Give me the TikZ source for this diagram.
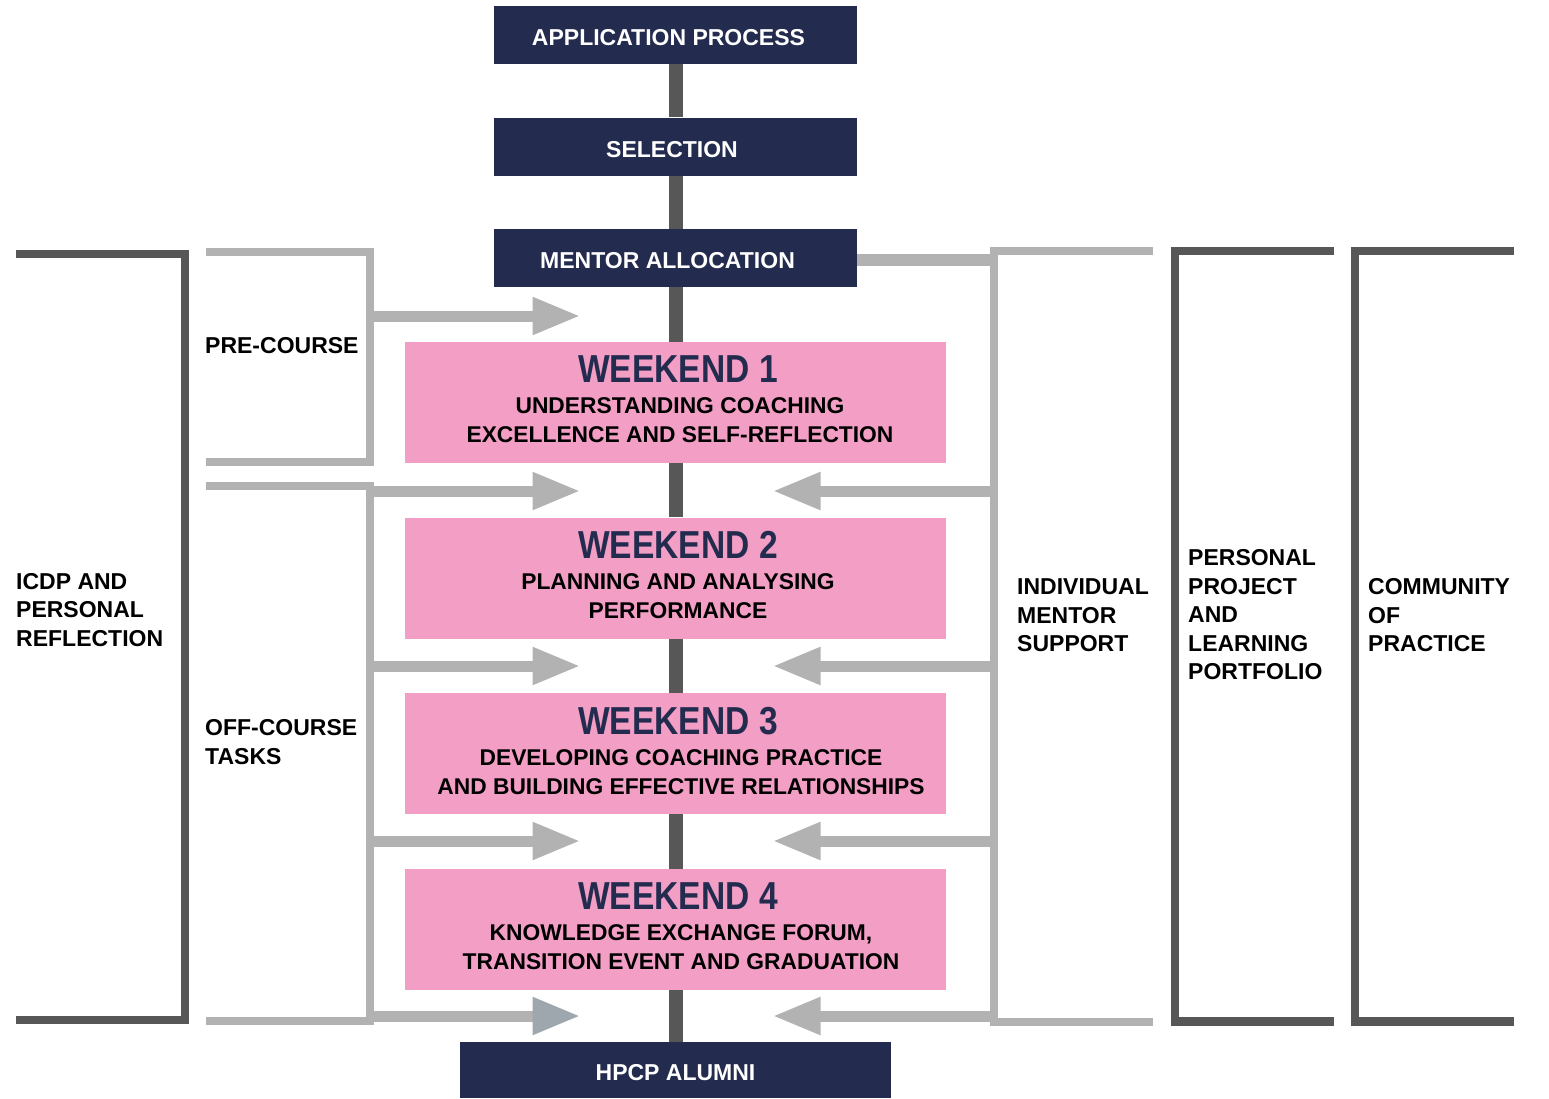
\documentclass[tikz,border=0pt]{standalone}
\usepackage{fontspec}
\setmainfont{Liberation Sans}
\newfontfamily\titlefont{Liberation Sans}[FakeStretch=0.86]
\usetikzlibrary{arrows.meta,backgrounds}
\definecolor{navy}{HTML}{232B4F}
\definecolor{pinkbox}{HTML}{F29EC5}
\definecolor{lgray}{HTML}{B2B2B2}
\definecolor{dgray}{HTML}{575757}
\definecolor{tipblue}{HTML}{9EA7AD}
\begin{document}
\begin{tikzpicture}[x=1pt,y=-1pt,
  navybox/.style={fill=navy, minimum width=363pt, minimum height=58pt, inner sep=0pt,
    text height=21.5pt, text depth=0pt,
    text=white, font=\bfseries\fontsize{23}{28}\selectfont},
  wkbox/.style={fill=pinkbox, minimum width=541pt, minimum height=121pt, inner sep=0pt},
  wtitle/.style={text=navy, font=\titlefont\bfseries\fontsize{39}{39}\selectfont, inner sep=0pt},
  wsub/.style={align=center, font=\bfseries\fontsize{22.8}{29.5}\selectfont, inner sep=0pt},
  sidelabel/.style={anchor=west, align=left, inner sep=0pt, font=\bfseries\fontsize{23}{28.5}\selectfont},
  spine/.style={draw=dgray, line width=14pt},
  lbracket/.style={draw=lgray, line width=8pt, line join=miter},
  dbracket/.style={draw=dgray, line width=8.5pt, line join=miter},
  flowarrow/.style={draw=lgray, line width=11pt, shorten >=-2.5pt, -{Triangle[length=48pt,width=35pt]}},
  flowarrowb/.style={draw=lgray, line width=11pt, shorten >=-2.5pt, -{Triangle[length=48pt,width=35pt,color=tipblue]}},
]
\useasboundingbox (0,0) rectangle (1549,1098);

% main column
\node[navybox] (app) at (675.5,35) {\hspace*{-14pt}APPLICATION PROCESS};
\node[navybox] (sel) at (675.5,146.5) {\hspace*{-7pt}SELECTION};
\node[navybox] (mentor) at (675.5,258) {\hspace*{-16pt}MENTOR ALLOCATION};
\node[wkbox] (w1) at (675.5,402.5) {};
\node[wkbox] (w2) at (675.5,578) {};
\node[wkbox] (w3) at (675.5,753.5) {};
\node[wkbox] (w4) at (675.5,929.5) {};
\node[navybox, minimum width=431pt, minimum height=56pt] (alumni) at (675.5,1070) {HPCP ALUMNI};

\begin{scope}[on background layer]
  \draw[spine] (app) -- (sel);
  \draw[spine] (sel) -- (mentor);
  \draw[spine] (mentor) -- (w1);
  \draw[spine] (w1) -- (w2);
  \draw[spine] (w2) -- (w3);
  \draw[spine] (w3) -- (w4);
  \draw[spine] (w4) -- (alumni);
\end{scope}

% weekend texts
\node[wtitle] (t1) at (678,369) {WEEKEND 1};
\node[wsub] (s1) at (680,420) {UNDERSTANDING COACHING\\EXCELLENCE AND SELF-REFLECTION};
\node[wtitle] (t2) at (678,545) {WEEKEND 2};
\node[wsub] (s2) at (678,596) {PLANNING AND ANALYSING\\PERFORMANCE};
\node[wtitle] (t3) at (678,721) {WEEKEND 3};
\node[wsub] (s3) at (681,772) {DEVELOPING COACHING PRACTICE\\AND BUILDING EFFECTIVE RELATIONSHIPS};
\node[wtitle] (t4) at (678,896) {WEEKEND 4};
\node[wsub] (s4) at (681,947) {KNOWLEDGE EXCHANGE FORUM,\\TRANSITION EVENT AND GRADUATION};

% left light brackets and arrows
\coordinate (pa) at (206,252);
\coordinate (pb) at (370,252);
\coordinate (pc) at (370,462);
\coordinate (pd) at (206,462);
\draw[lbracket] (pa) -- (pb) -- (pc) -- (pd);
\coordinate (oa) at (206,486);
\coordinate (ob) at (370,486);
\coordinate (oc) at (370,1021);
\coordinate (od) at (206,1021);
\draw[lbracket] (oa) -- (ob) -- (oc) -- (od);

\foreach \i/\y in {1/316,2/491,3/666,4/841}{
  \coordinate (ls\i) at (370,\y);
  \coordinate (le\i) at (578,\y);
  \draw[flowarrow] (ls\i) -- (le\i);
}
\coordinate (ls5) at (370,1016);
\coordinate (le5) at (578,1016);
\draw[flowarrowb] (ls5) -- (le5);

% right light bracket, mentor link and arrows
\coordinate (ra) at (1153,251);
\coordinate (rb) at (994,251);
\coordinate (rc) at (994,1021.5);
\coordinate (rd) at (1153,1021.5);
\draw[lbracket] (ra) -- (rb) -- (rc) -- (rd);
\coordinate (rm) at (994,260);
\draw[draw=lgray, line width=12pt] (mentor.east |- rm) -- (rm);

\foreach \i/\y in {2/491,3/666,4/841,5/1016}{
  \coordinate (rs\i) at (994,\y);
  \coordinate (re\i) at (775,\y);
  \draw[flowarrow] (rs\i) -- (re\i);
}

% dark brackets
\coordinate (ia) at (16,254);
\coordinate (ib) at (185,254);
\coordinate (ic) at (185,1020);
\coordinate (id) at (16,1020);
\draw[dbracket] (ia) -- (ib) -- (ic) -- (id);
\coordinate (ppa) at (1334,251);
\coordinate (ppb) at (1175,251);
\coordinate (ppc) at (1175,1021.5);
\coordinate (ppd) at (1334,1021.5);
\draw[dbracket] (ppa) -- (ppb) -- (ppc) -- (ppd);
\coordinate (ca) at (1514,251);
\coordinate (cb) at (1355,251);
\coordinate (cc) at (1355,1021.5);
\coordinate (cd) at (1514,1021.5);
\draw[dbracket] (ca) -- (cb) -- (cc) -- (cd);

% side labels
\node[sidelabel] (lpre) at (205,346) {PRE-COURSE};
\node[sidelabel] (loff) at (205,742) {OFF-COURSE\\TASKS};
\node[sidelabel] (licdp) at (16,610) {ICDP AND\\PERSONAL\\REFLECTION};
\node[sidelabel] (lind) at (1017,615.5) {INDIVIDUAL\\MENTOR\\SUPPORT};
\node[sidelabel] (lpp) at (1188,615) {PERSONAL\\PROJECT\\AND\\LEARNING\\PORTFOLIO};
\node[sidelabel] (lcom) at (1368,615.5) {COMMUNITY\\OF\\PRACTICE};
\end{tikzpicture}
\end{document}
